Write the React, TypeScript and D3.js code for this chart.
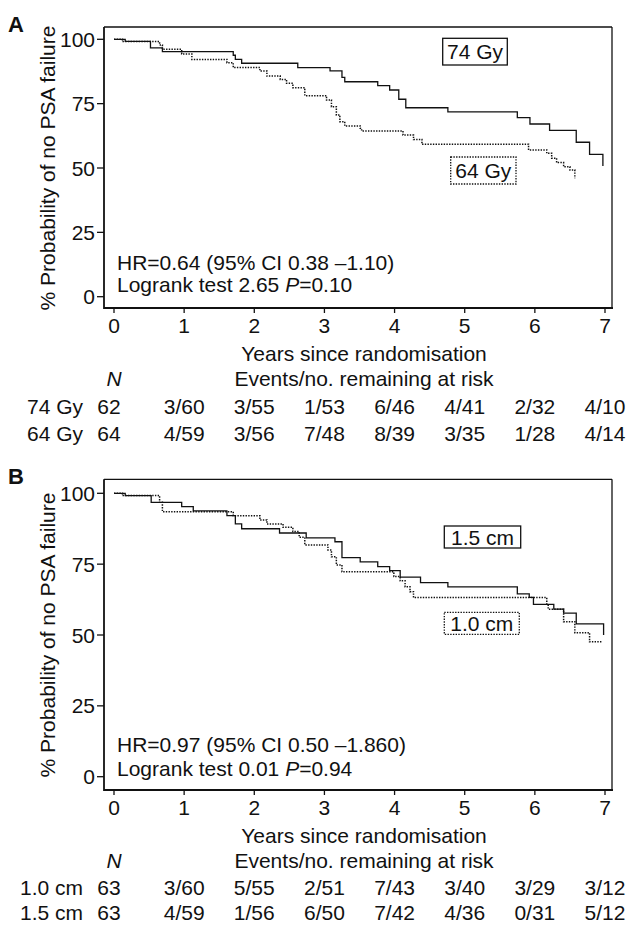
import React from "react";
import * as d3 from "d3";

// ---------- data ----------
const xTicks = [0, 1, 2, 3, 4, 5, 6, 7];
const yTicks = [0, 25, 50, 75, 100];

// Panel A: 74 Gy (solid), 64 Gy (dotted)
const a74Times = [0, 0.16, 0.52, 0.69, 1.70, 1.73, 1.82, 2.62, 3.08, 3.25, 3.29, 3.76, 3.93, 4.06, 4.16, 4.76, 5.75, 5.93, 6.21, 6.59, 6.78, 6.97];
const a74Surv = [100, 99.2, 96.7, 95.2, 93.8, 92.2, 90.7, 89.0, 87.7, 85.2, 83.5, 82.0, 80.3, 76.7, 73.4, 71.8, 69.6, 67.1, 64.6, 60.0, 55.3, 50.8];
const a64Times = [0, 0.12, 0.65, 0.69, 0.965, 1.11, 1.61, 1.70, 2.08, 2.18, 2.37, 2.46, 2.55, 2.72, 3.03, 3.10, 3.17, 3.22, 3.29, 3.51, 3.53, 4.12, 4.27, 4.39, 5.91, 6.17, 6.24, 6.31, 6.41, 6.50, 6.57];
const a64Surv = [100, 99.1, 97.8, 96.1, 94.3, 92.2, 90.9, 89.0, 87.7, 85.7, 84.4, 82.9, 81.2, 78.1, 76.4, 73.8, 70.6, 68.0, 66.3, 65.4, 64.4, 62.8, 61.1, 59.2, 57.0, 55.7, 53.8, 52.1, 50.5, 49.2, 46.0];

// Panel B: 1.5 cm (solid), 1.0 cm (dotted)
const b15Times = [0, 0.16, 0.53, 0.965, 1.13, 1.61, 1.73, 1.82, 2.36, 2.74, 3.15, 3.25, 3.51, 3.76, 3.93, 4.08, 4.37, 4.76, 5.75, 5.92, 5.98, 6.27, 6.41, 6.59, 6.98];
const b15Surv = [100, 99.2, 96.8, 95.3, 93.8, 92.1, 89.2, 87.5, 86.0, 84.3, 82.9, 77.3, 75.8, 74.1, 72.7, 70.4, 68.5, 67.0, 64.5, 63.3, 60.8, 59.1, 57.7, 53.9, 50.0];
const b10Times = [0, 0.12, 0.65, 0.69, 1.70, 2.08, 2.18, 2.41, 2.55, 2.64, 2.72, 3.05, 3.10, 3.17, 3.25, 3.99, 4.08, 4.15, 4.22, 4.27, 6.17, 6.19, 6.41, 6.57, 6.78, 6.95];
const b10Surv = [100, 99.2, 96.8, 93.5, 92.1, 90.6, 89.2, 88.0, 86.5, 84.5, 81.8, 80.0, 77.6, 74.7, 72.3, 70.6, 69.1, 67.0, 65.3, 63.2, 60.9, 59.1, 54.7, 50.8, 47.6, 47.6];

// Tables
const groupsA = ["74 Gy", "64 Gy"];
const nA = [62, 64];
const riskA74 = ["3/60", "3/55", "1/53", "6/46", "4/41", "2/32", "4/10"];
const riskA64 = ["4/59", "3/56", "7/48", "8/39", "3/35", "1/28", "4/14"];

const groupsB = ["1.0 cm", "1.5 cm"];
const nB = [63, 63];
const riskB10 = ["3/60", "5/55", "2/51", "7/43", "3/40", "3/29", "3/12"];
const riskB15 = ["4/59", "1/56", "6/50", "7/42", "4/36", "0/31", "5/12"];

const statsA = ["HR=0.64 (95% CI 0.38 \u20131.10)", "Logrank test 2.65 ", "=0.10"];
const statsB = ["HR=0.97 (95% CI 0.50 \u20131.860)", "Logrank test 0.01 ", "=0.94"];

// ---------- drawing ----------
const FONT = "'Liberation Sans', Arial, Helvetica, sans-serif";
const FS = 21;
const DOT = "1.4 1.3";

type Box = { text: string; x0: number; x1: number; y0: number; y1: number; base: number };
type PanelProps = {
  letter: string;
  frameTop: number;
  frameBottom: number;
  y100: number;
  y0: number;
  solid: [number[], number[]];
  dotted: [number[], number[]];
  solidLabel: Box;
  dottedLabel: Box;
  stats: string[];
  statsBase: [number, number];
  groups: string[];
  ns: number[];
  risk: string[][];
  rowBases: [number, number];
};

const x = d3.scaleLinear().domain([0, 7]).range([114, 605]);
const FL = 104;
const FR = 612;

function Panel(p: PanelProps) {
  const y = d3.scaleLinear().domain([0, 100]).range([p.y0, p.y100]);
  const line = d3
    .line<[number, number]>()
    .x((d) => x(d[0]))
    .y((d) => y(d[1]))
    .curve(d3.curveStepAfter);
  const toPts = (s: [number[], number[]]) => s[0].map((t, i) => [t, s[1][i]] as [number, number]);
  const fb = p.frameBottom;
  const midY = (p.y100 + p.y0) / 2;
  return (
    <g fontFamily={FONT} fontSize={FS} fill="#111">
      <text x={8} y={p.frameTop + 5} fontSize={22} fontWeight="bold">{p.letter}</text>
      {/* frame */}
      <line x1={FL} x2={FR} y1={p.frameTop} y2={p.frameTop} stroke="#111" strokeWidth={1.3} />
      <line x1={FR} x2={FR} y1={p.frameTop} y2={fb} stroke="#111" strokeWidth={1.3} />
      <line x1={FL} x2={FL} y1={p.frameTop} y2={fb + 1} stroke="#111" strokeWidth={1.8} />
      <line x1={FL} x2={FR + 1} y1={fb} y2={fb} stroke="#111" strokeWidth={2} />
      {/* y ticks */}
      {yTicks.map((v) => (
        <g key={"y" + v}>
          <line x1={FL - 7} x2={FL} y1={y(v)} y2={y(v)} stroke="#111" strokeWidth={1.3} />
          <text x={95} y={y(v) + 7.5} textAnchor="end">{v}</text>
        </g>
      ))}
      {/* x ticks */}
      {xTicks.map((v) => (
        <g key={"x" + v}>
          <line x1={x(v)} x2={x(v)} y1={fb} y2={fb + 5} stroke="#111" strokeWidth={1.3} />
          <text x={x(v)} y={fb + 25} textAnchor="middle">{v}</text>
        </g>
      ))}
      <text transform={`translate(55,${midY}) rotate(-90)`} textAnchor="middle">
        % Probability of no PSA failure
      </text>
      {/* curves */}
      <path d={line(toPts(p.solid)) || ""} fill="none" stroke="#111" strokeWidth={1.3} />
      <path d={line(toPts(p.dotted)) || ""} fill="none" stroke="#111" strokeWidth={1.5} strokeDasharray={DOT} />
      {/* legend labels */}
      <rect x={p.solidLabel.x0} y={p.solidLabel.y0} width={p.solidLabel.x1 - p.solidLabel.x0} height={p.solidLabel.y1 - p.solidLabel.y0} fill="white" stroke="#111" strokeWidth={1.3} />
      <text x={(p.solidLabel.x0 + p.solidLabel.x1) / 2} y={p.solidLabel.base} textAnchor="middle">{p.solidLabel.text}</text>
      <rect x={p.dottedLabel.x0} y={p.dottedLabel.y0} width={p.dottedLabel.x1 - p.dottedLabel.x0} height={p.dottedLabel.y1 - p.dottedLabel.y0} fill="white" stroke="#111" strokeWidth={1.3} strokeDasharray={DOT} />
      <text x={(p.dottedLabel.x0 + p.dottedLabel.x1) / 2} y={p.dottedLabel.base} textAnchor="middle">{p.dottedLabel.text}</text>
      {/* stats */}
      <text x={117} y={p.statsBase[0]}>{p.stats[0]}</text>
      <text x={117} y={p.statsBase[1]}>
        {p.stats[1]}
        <tspan fontStyle="italic">P</tspan>
        {p.stats[2]}
      </text>
      {/* axis title & table */}
      <text x={364} y={fb + 53} textAnchor="middle">Years since randomisation</text>
      <text x={x(0)} y={fb + 78} textAnchor="middle" fontStyle="italic">N</text>
      <text x={364} y={fb + 78} textAnchor="middle">Events/no. remaining at risk</text>
      {p.groups.map((g, i) => {
        const base = p.rowBases[i];
        return (
          <g key={g}>
            <text x={83} y={base} textAnchor="end">{g}</text>
            <text x={109} y={base} textAnchor="middle">{p.ns[i]}</text>
            {p.risk[i].map((r, j) => (
              <text key={j} x={x(j + 1)} y={base} textAnchor="middle">{r}</text>
            ))}
          </g>
        );
      })}
    </g>
  );
}

export default function App() {
  return (
    <svg width={628} height={925} style={{ position: "absolute", left: 0, top: 0, background: "white" }}>
      <rect width={628} height={925} fill="white" />
      <Panel
        letter="A"
        frameTop={27}
        frameBottom={308}
        y100={39.3}
        y0={296.7}
        solid={[a74Times, a74Surv]}
        dotted={[a64Times, a64Surv]}
        solidLabel={{ text: "74 Gy", x0: 442.7, x1: 507.3, y0: 38.3, y1: 65, base: 58.5 }}
        dottedLabel={{ text: "64 Gy", x0: 450.7, x1: 516, y0: 157, y1: 184, base: 177.5 }}
        stats={statsA}
        statsBase={[270, 292]}
        groups={groupsA}
        ns={nA}
        risk={[riskA74, riskA64]}
        rowBases={[414, 440.7]}
      />
      <Panel
        letter="B"
        frameTop={479.3}
        frameBottom={790}
        y100={493.3}
        y0={776.7}
        solid={[b15Times, b15Surv]}
        dotted={[b10Times, b10Surv]}
        solidLabel={{ text: "1.5 cm", x0: 444.3, x1: 520.7, y0: 526, y1: 548, base: 544.5 }}
        dottedLabel={{ text: "1.0 cm", x0: 444.3, x1: 519.3, y0: 612.3, y1: 634.3, base: 631 }}
        stats={statsB}
        statsBase={[752, 776]}
        groups={groupsB}
        ns={nB}
        risk={[riskB10, riskB15]}
        rowBases={[894.5, 919.5]}
      />
    </svg>
  );
}
